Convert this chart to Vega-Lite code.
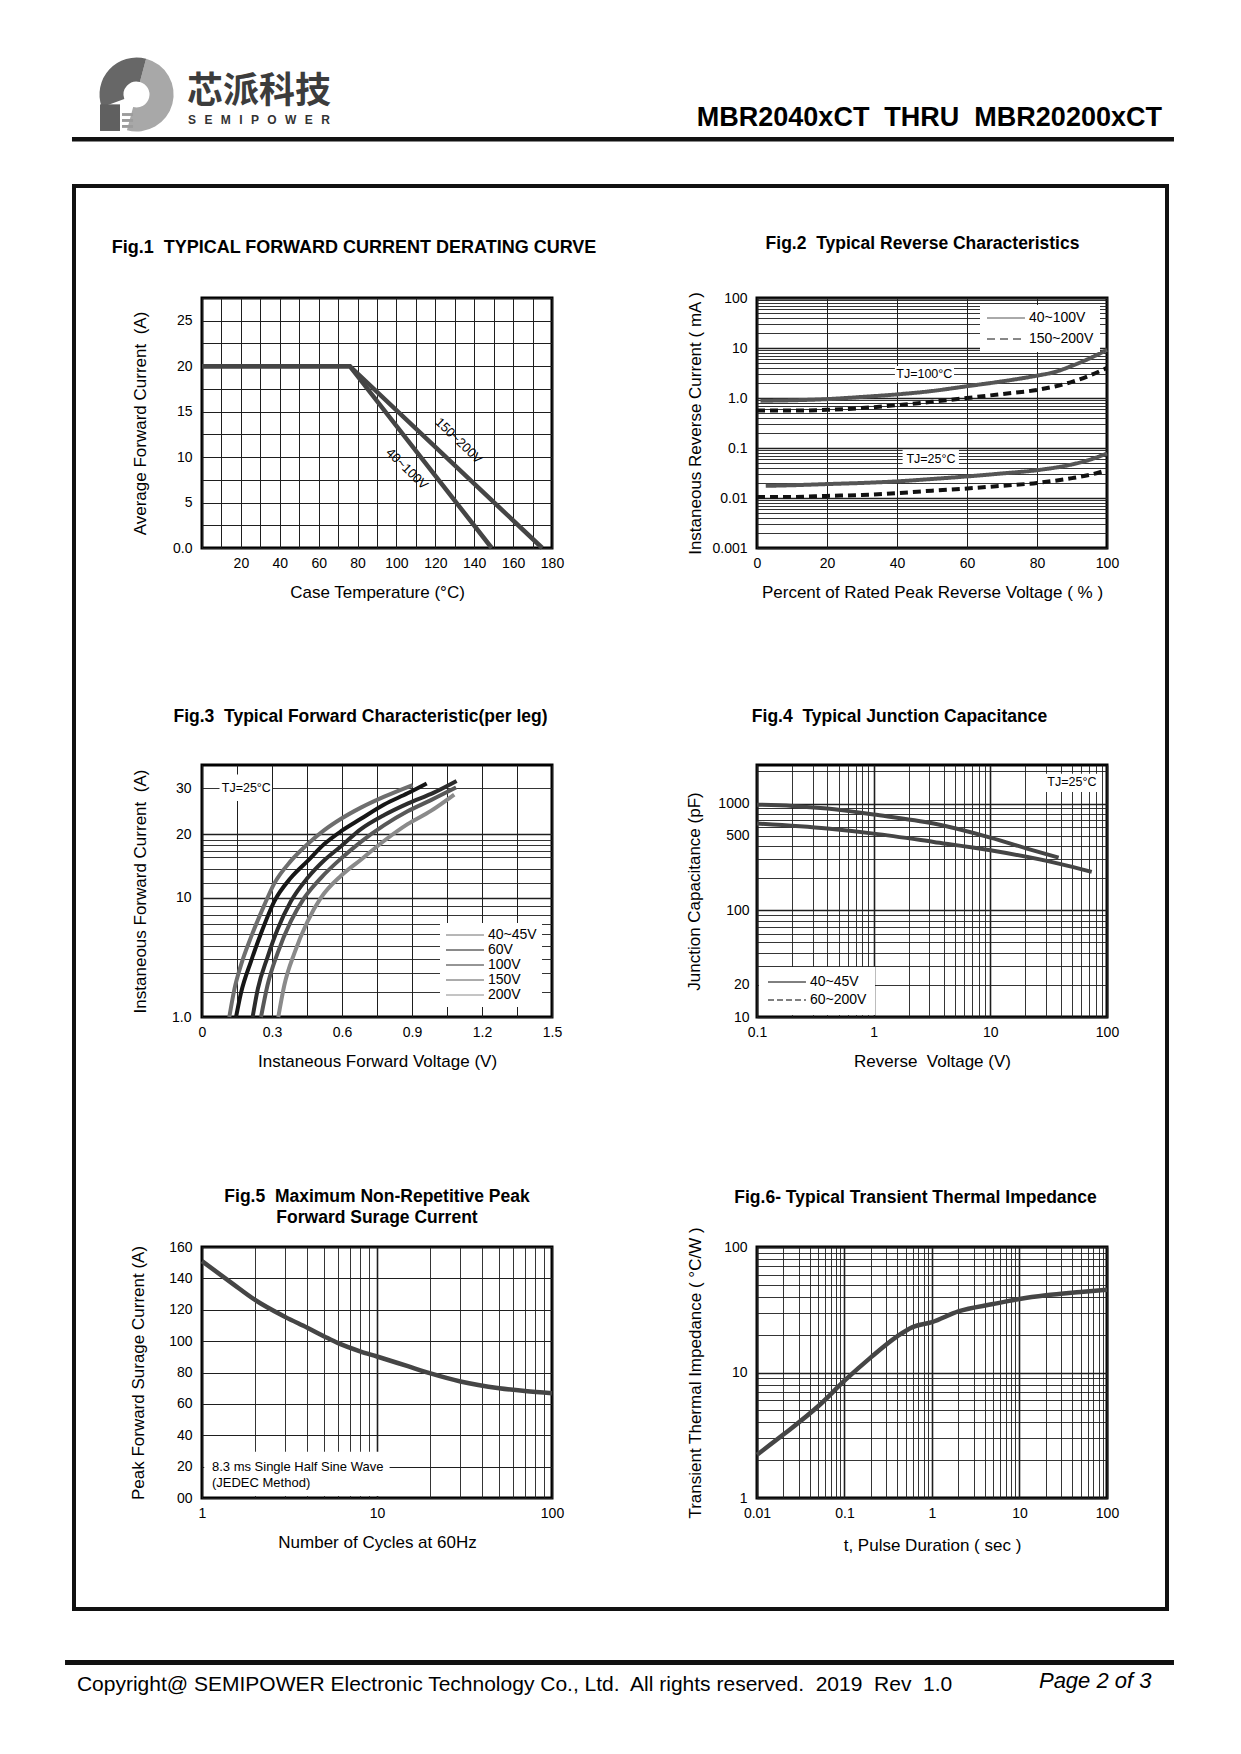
{
"$schema": "https://vega.github.io/schema/vega-lite/v6.json",
"background": "#ffffff",
"padding": 0,
"spacing": 0,
"bounds": "flush",
"columns": 9,
"align": "each",
"resolve": {"scale": {"color": "independent", "strokeDash": "independent", "theta": "independent"}},
"config": {
  "font": "Liberation Sans",
  "view": {"stroke": null},
  "axis": {"domain": false, "ticks": false, "labelFont": "Liberation Sans", "labelFontSize": 14, "labelColor": "#000", "titleFont": "Liberation Sans", "titleFontSize": 17, "titleFontWeight": "normal", "titleColor": "#000", "gridColor": "#1e1e1e", "gridOpacity": 1, "gridWidth": 1, "labelFlush": false, "labelOverlap": false, "grid": true},
  "axisX": {"labelPadding": 8, "titlePadding": 14},
  "legend": {"labelFont": "Liberation Sans", "labelFontSize": 14, "labelColor": "#000", "fillColor": "#ffffff", "symbolStrokeWidth": 1, "labelLimit": 300},
  "title": {"font": "Liberation Sans", "fontSize": 17.5, "fontWeight": "bold", "color": "#000", "anchor": "middle"}
},
"concat": [
  {
    "width": 72, "height": 181,
    "data": {"values": [{}]},
    "layer": [
      {"mark": {"type": "arc", "outerRadius": 37, "innerRadius": 13, "color": "#a8a8a8"},
       "encoding": {"x": {"datum": 0.11, "type": "quantitative", "scale": {"domain": [0, 1], "range": [0, 1241], "nice": false, "zero": false}, "axis": null},
                    "y": {"datum": 0.5055, "type": "quantitative", "scale": {"domain": [0, 1], "nice": false, "zero": false, "reverse": true}, "axis": null},
                    "theta": {"datum": 15, "type": "quantitative", "scale": {"domain": [0, 360], "range": [0, 6.2832]}},
                    "theta2": {"datum": 195}}},
      {"mark": {"type": "arc", "outerRadius": 37, "innerRadius": 13, "color": "#676767"},
       "encoding": {"x": {"datum": 0.11, "type": "quantitative", "scale": {"domain": [0, 1], "range": [0, 1241], "nice": false, "zero": false}, "axis": null},
                    "y": {"datum": 0.5055, "type": "quantitative", "scale": {"domain": [0, 1], "nice": false, "zero": false, "reverse": true}, "axis": null},
                    "theta": {"datum": 250, "type": "quantitative", "scale": {"domain": [0, 360], "range": [0, 6.2832]}},
                    "theta2": {"datum": 375}}},
      {"mark": {"type": "rect", "color": "#606060"},
       "encoding": {"x": {"datum": 0.0806, "type": "quantitative", "scale": {"domain": [0, 1], "range": [0, 1241], "nice": false, "zero": false}, "axis": null}, "x2": {"datum": 0.0967},
                    "y": {"datum": 0.56, "type": "quantitative", "scale": {"domain": [0, 1], "nice": false, "zero": false, "reverse": true}, "axis": null}, "y2": {"datum": 0.707}}},
      {"mark": {"type": "rect", "color": "#9c9c9c"},
       "encoding": {"x": {"datum": 0.0983, "type": "quantitative", "scale": {"domain": [0, 1], "range": [0, 1241], "nice": false, "zero": false}, "axis": null}, "x2": {"datum": 0.1072},
                    "y": {"datum": 0.608, "type": "quantitative", "scale": {"domain": [0, 1], "nice": false, "zero": false, "reverse": true}, "axis": null}, "y2": {"datum": 0.624}}},
      {"mark": {"type": "rect", "color": "#9c9c9c"},
       "encoding": {"x": {"datum": 0.0983, "type": "quantitative", "scale": {"domain": [0, 1], "range": [0, 1241], "nice": false, "zero": false}, "axis": null}, "x2": {"datum": 0.1072},
                    "y": {"datum": 0.641, "type": "quantitative", "scale": {"domain": [0, 1], "nice": false, "zero": false, "reverse": true}, "axis": null}, "y2": {"datum": 0.657}}},
      {"mark": {"type": "rect", "color": "#9c9c9c"},
       "encoding": {"x": {"datum": 0.0983, "type": "quantitative", "scale": {"domain": [0, 1], "range": [0, 1241], "nice": false, "zero": false}, "axis": null}, "x2": {"datum": 0.1072},
                    "y": {"datum": 0.674, "type": "quantitative", "scale": {"domain": [0, 1], "nice": false, "zero": false, "reverse": true}, "axis": null}, "y2": {"datum": 0.69}}},
      {"mark": {"type": "text", "text": "芯派科技", "font": "Noto Sans CJK SC", "fontSize": 36, "fontWeight": "bold", "align": "left", "baseline": "middle", "color": "#3c3c3c"},
       "encoding": {"x": {"datum": 0.1507, "type": "quantitative", "scale": {"domain": [0, 1], "range": [0, 1241], "nice": false, "zero": false}, "axis": null},
                    "y": {"datum": 0.4917, "type": "quantitative", "scale": {"domain": [0, 1], "nice": false, "zero": false, "reverse": true}, "axis": null}}},
      {"mark": {"type": "text", "text": "S\u2002\u2009E\u2002\u2009M\u2002\u2009I\u2002\u2009P\u2002\u2009O\u2002\u2009W\u2002\u2009E\u2002\u2009R", "fontSize": 12, "fontWeight": "bold", "align": "left", "baseline": "middle", "color": "#333333"},
       "encoding": {"x": {"datum": 0.1515, "type": "quantitative", "scale": {"domain": [0, 1], "range": [0, 1241], "nice": false, "zero": false}, "axis": null},
                    "y": {"datum": 0.645, "type": "quantitative", "scale": {"domain": [0, 1], "nice": false, "zero": false, "reverse": true}, "axis": null}}},
      {"mark": {"type": "text", "text": "MBR2040xCT\u00a0 THRU\u00a0 MBR20200xCT", "fontSize": 27, "fontWeight": "bold", "align": "right", "baseline": "alphabetic", "color": "#000"},
       "encoding": {"x": {"datum": 0.9363, "type": "quantitative", "scale": {"domain": [0, 1], "range": [0, 1241], "nice": false, "zero": false}, "axis": null},
                    "y": {"datum": 0.6775, "type": "quantitative", "scale": {"domain": [0, 1], "nice": false, "zero": false, "reverse": true}, "axis": null}}},
      {"mark": {"type": "rule", "strokeWidth": 4.5, "color": "#111"},
       "encoding": {"x": {"datum": 0.058, "type": "quantitative", "scale": {"domain": [0, 1], "range": [0, 1241], "nice": false, "zero": false}, "axis": null}, "x2": {"datum": 0.946},
                    "y": {"datum": 0.7527, "type": "quantitative", "scale": {"domain": [0, 1], "nice": false, "zero": false, "reverse": true}, "axis": null}}}
    ]
  },
  {"width": 4, "height": 1, "data": {"values": [{}]}, "mark": {"type": "point", "opacity": 0}},
  {"width": 126, "height": 1, "data": {"values": [{}]}, "mark": {"type": "point", "opacity": 0}},
  {"width": 350, "height": 1, "data": {"values": [{}]}, "mark": {"type": "point", "opacity": 0}},
  {"width": 205, "height": 1, "data": {"values": [{}]}, "mark": {"type": "point", "opacity": 0}},
  {"width": 350, "height": 1, "data": {"values": [{}]}, "mark": {"type": "point", "opacity": 0}},
  {"width": 58, "height": 1, "data": {"values": [{}]}, "mark": {"type": "point", "opacity": 0}},
  {"width": 4, "height": 1, "data": {"values": [{}]}, "mark": {"type": "point", "opacity": 0}},
  {"width": 72, "height": 1, "data": {"values": [{}]}, "mark": {"type": "point", "opacity": 0}},

  {"width": 72, "height": 4, "data": {"values": [{}]}, "mark": {"type": "point", "opacity": 0}},
  {"width": 4, "height": 4, "data": {"values": [{}]}, "view": {"fill": "#111111"}, "mark": {"type": "point", "opacity": 0}},
  {"width": 126, "height": 4, "data": {"values": [{}]}, "view": {"fill": "#111111"}, "mark": {"type": "point", "opacity": 0}},
  {"width": 350, "height": 4, "data": {"values": [{}]}, "view": {"fill": "#111111"}, "mark": {"type": "point", "opacity": 0}},
  {"width": 205, "height": 4, "data": {"values": [{}]}, "view": {"fill": "#111111"}, "mark": {"type": "point", "opacity": 0}},
  {"width": 350, "height": 4, "data": {"values": [{}]}, "view": {"fill": "#111111"}, "mark": {"type": "point", "opacity": 0}},
  {"width": 58, "height": 4, "data": {"values": [{}]}, "view": {"fill": "#111111"}, "mark": {"type": "point", "opacity": 0}},
  {"width": 4, "height": 4, "data": {"values": [{}]}, "view": {"fill": "#111111"}, "mark": {"type": "point", "opacity": 0}},
  {"width": 72, "height": 4, "data": {"values": [{}]}, "mark": {"type": "point", "opacity": 0}},

  {"width": 72, "height": 110, "data": {"values": [{}]}, "mark": {"type": "point", "opacity": 0}},
  {"width": 4, "height": 110, "data": {"values": [{}]}, "view": {"fill": "#111111"}, "mark": {"type": "point", "opacity": 0}},
  {"width": 126, "height": 1, "data": {"values": [{}]}, "mark": {"type": "point", "opacity": 0}},
  {"width": 350, "height": 1, "data": {"values": [{}]}, "mark": {"type": "point", "opacity": 0}},
  {"width": 205, "height": 1, "data": {"values": [{}]}, "mark": {"type": "point", "opacity": 0}},
  {"width": 350, "height": 1, "data": {"values": [{}]}, "mark": {"type": "point", "opacity": 0}},
  {"width": 58, "height": 1, "data": {"values": [{}]}, "mark": {"type": "point", "opacity": 0}},
  {"width": 4, "height": 110, "data": {"values": [{}]}, "view": {"fill": "#111111"}, "mark": {"type": "point", "opacity": 0}},
  {"width": 72, "height": 1, "data": {"values": [{}]}, "mark": {"type": "point", "opacity": 0}},

  {"width": 72, "height": 1, "data": {"values": [{}]}, "mark": {"type": "point", "opacity": 0}},
  {"width": 4, "height": 250, "data": {"values": [{}]}, "view": {"fill": "#111111"}, "mark": {"type": "point", "opacity": 0}},
  {"width": 126, "height": 1, "data": {"values": [{}]}, "mark": {"type": "point", "opacity": 0}},
  {
    "width": 350, "height": 250,
    "view": {"stroke": "#000", "strokeWidth": 3},
    "title": {"text": "Fig.1\u00a0 TYPICAL FORWARD CURRENT DERATING CURVE", "fontSize": 18, "dx": -23, "offset": 34},
    "encoding": {
      "x": {"field": "x", "type": "quantitative", "scale": {"domain": [0, 180], "nice": false, "zero": false},
            "axis": {"values": [0,10,20,30,40,50,60,70,80,90,100,110,120,130,140,150,160,170,180], "labelExpr": "datum.value > 0 && datum.value % 20 == 0 ? '' + datum.value : ''", "title": "Case Temperature (°C)"}},
      "y": {"field": "y", "type": "quantitative", "scale": {"domain": [0, 27.5], "nice": false, "zero": false},
            "axis": {"values": [0,2.5,5,7.5,10,12.5,15,17.5,20,22.5,25,27.5], "labelExpr": "datum.value == 0 ? '0.0' : (datum.value % 5 == 0 ? '' + datum.value : '')", "labelPadding": 10, "titlePadding": 23, "title": "Average Forward Current\u00a0 (A)"}}
    },
    "layer": [
      {"data": {"values": [
        {"s": "40~100V", "x": 0, "y": 20}, {"s": "40~100V", "x": 76, "y": 20}, {"s": "40~100V", "x": 149, "y": 0},
        {"s": "150~200V", "x": 0, "y": 20}, {"s": "150~200V", "x": 76, "y": 20}, {"s": "150~200V", "x": 175, "y": 0}]},
       "mark": {"type": "line", "color": "#454545", "strokeWidth": 4.5},
       "encoding": {"detail": {"field": "s"}}},
      {"data": {"values": [{"label": "150~200V", "x": 132, "y": 11.8}, {"label": "40~100V", "x": 105.4, "y": 8.7}]},
       "mark": {"type": "text", "angle": 44, "fontSize": 13, "color": "#000"},
       "encoding": {"text": {"field": "label"}}}
    ]
  },
  {"width": 205, "height": 1, "data": {"values": [{}]}, "mark": {"type": "point", "opacity": 0}},
  {
    "width": 350, "height": 250,
    "view": {"stroke": "#000", "strokeWidth": 3},
    "title": {"text": "Fig.2\u00a0 Typical Reverse Characteristics", "dx": -9.5, "offset": 38.5},
    "encoding": {
      "x": {"field": "x", "type": "quantitative", "scale": {"domain": [0, 100], "nice": false, "zero": false},
            "axis": {"values": [0,20,40,60,80,100], "title": "Percent of Rated Peak Reverse Voltage ( % )"}},
      "y": {"field": "y", "type": "quantitative", "scale": {"type": "log", "domain": [0.001, 100], "nice": false},
            "axis": {"values": [0.001,0.002,0.003,0.004,0.005,0.006,0.007,0.008,0.009,0.01,0.02,0.03,0.04,0.05,0.06,0.07,0.08,0.09,0.1,0.2,0.3,0.4,0.5,0.6,0.7,0.8,0.9,1,2,3,4,5,6,7,8,9,10,20,30,40,50,60,70,80,90,100],
                     "labelExpr": "datum.value == 100 ? '100' : datum.value == 10 ? '10' : datum.value == 1 ? '1.0' : datum.value == 0.1 ? '0.1' : datum.value == 0.01 ? '0.01' : datum.value == 0.001 ? '0.001' : ''",
                     "gridWidth": {"condition": {"test": "indexof([0.001,0.01,0.1,1,10,100], datum.value) >= 0", "value": 1.6}, "value": 0.9},
                     "labelPadding": 10, "titlePadding": 7.5, "title": "Instaneous Reverse Current ( mA )"}}
    },
    "layer": [
      {"data": {"values": [{"x": 39.4, "x2": 56.3, "y": 2.05, "y2": 4.35}, {"x": 41.6, "x2": 57.7, "y": 0.04, "y2": 0.092}]},
       "mark": {"type": "rect", "color": "#ffffff"},
       "encoding": {"x2": {"field": "x2"}, "y2": {"field": "y2"}}},
      {"data": {"values": [{"label": "TJ=100°C", "x": 47.8, "y": 3.0}, {"label": "TJ=25°C", "x": 49.7, "y": 0.0606}]},
       "mark": {"type": "text", "fontSize": 12.5, "color": "#000"},
       "encoding": {"text": {"field": "label"}}},
      {"data": {"values": [
        {"s": "40~100V", "t": "100", "x": 1, "y": 0.88}, {"s": "40~100V", "t": "100", "x": 10, "y": 0.9}, {"s": "40~100V", "t": "100", "x": 20, "y": 0.95}, {"s": "40~100V", "t": "100", "x": 30, "y": 1.05}, {"s": "40~100V", "t": "100", "x": 40, "y": 1.18}, {"s": "40~100V", "t": "100", "x": 50, "y": 1.38}, {"s": "40~100V", "t": "100", "x": 60, "y": 1.72}, {"s": "40~100V", "t": "100", "x": 70, "y": 2.15}, {"s": "40~100V", "t": "100", "x": 80, "y": 2.8}, {"s": "40~100V", "t": "100", "x": 85, "y": 3.3}, {"s": "40~100V", "t": "100", "x": 90, "y": 4.4}, {"s": "40~100V", "t": "100", "x": 95, "y": 6.2}, {"s": "40~100V", "t": "100", "x": 100, "y": 9.2},
        {"s": "150~200V", "t": "100", "x": 0, "y": 0.56}, {"s": "150~200V", "t": "100", "x": 10, "y": 0.56}, {"s": "150~200V", "t": "100", "x": 20, "y": 0.58}, {"s": "150~200V", "t": "100", "x": 30, "y": 0.63}, {"s": "150~200V", "t": "100", "x": 40, "y": 0.72}, {"s": "150~200V", "t": "100", "x": 50, "y": 0.84}, {"s": "150~200V", "t": "100", "x": 60, "y": 1.0}, {"s": "150~200V", "t": "100", "x": 70, "y": 1.2}, {"s": "150~200V", "t": "100", "x": 80, "y": 1.45}, {"s": "150~200V", "t": "100", "x": 85, "y": 1.7}, {"s": "150~200V", "t": "100", "x": 90, "y": 2.1}, {"s": "150~200V", "t": "100", "x": 95, "y": 2.8}, {"s": "150~200V", "t": "100", "x": 100, "y": 4.0},
        {"s": "40~100V", "t": "25", "x": 2.5, "y": 0.0175}, {"s": "40~100V", "t": "25", "x": 10, "y": 0.018}, {"s": "40~100V", "t": "25", "x": 20, "y": 0.019}, {"s": "40~100V", "t": "25", "x": 30, "y": 0.02}, {"s": "40~100V", "t": "25", "x": 40, "y": 0.0215}, {"s": "40~100V", "t": "25", "x": 50, "y": 0.024}, {"s": "40~100V", "t": "25", "x": 60, "y": 0.027}, {"s": "40~100V", "t": "25", "x": 70, "y": 0.031}, {"s": "40~100V", "t": "25", "x": 80, "y": 0.036}, {"s": "40~100V", "t": "25", "x": 90, "y": 0.047}, {"s": "40~100V", "t": "25", "x": 95, "y": 0.058}, {"s": "40~100V", "t": "25", "x": 100, "y": 0.078},
        {"s": "150~200V", "t": "25", "x": 0, "y": 0.0105}, {"s": "150~200V", "t": "25", "x": 10, "y": 0.0105}, {"s": "150~200V", "t": "25", "x": 20, "y": 0.011}, {"s": "150~200V", "t": "25", "x": 30, "y": 0.0115}, {"s": "150~200V", "t": "25", "x": 40, "y": 0.0125}, {"s": "150~200V", "t": "25", "x": 50, "y": 0.014}, {"s": "150~200V", "t": "25", "x": 60, "y": 0.0155}, {"s": "150~200V", "t": "25", "x": 70, "y": 0.0175}, {"s": "150~200V", "t": "25", "x": 80, "y": 0.02}, {"s": "150~200V", "t": "25", "x": 90, "y": 0.025}, {"s": "150~200V", "t": "25", "x": 95, "y": 0.029}, {"s": "150~200V", "t": "25", "x": 100, "y": 0.036}]},
       "mark": {"type": "line", "strokeWidth": 4, "interpolate": "monotone"},
       "encoding": {
         "color": {"field": "s", "type": "nominal", "scale": {"domain": ["40~100V", "150~200V"], "range": ["#555555", "#111111"]},
                   "legend": {"title": null, "orient": "top-right", "offset": 7, "symbolType": "M-1,0H5.33", "symbolSize": 144, "symbolStrokeWidth": 1, "labelOffset": 29, "rowPadding": 7, "padding": 6}},
         "strokeDash": {"field": "s", "type": "nominal", "scale": {"domain": ["40~100V", "150~200V"], "range": [[1, 0], [8, 5]]},
                   "legend": {"title": null, "orient": "top-right", "offset": 7, "symbolType": "M-1,0H5.33", "symbolSize": 144, "symbolStrokeWidth": 1, "labelOffset": 29, "rowPadding": 7, "padding": 6}},
         "detail": {"field": "t"}
       }}
    ]
  },
  {"width": 58, "height": 1, "data": {"values": [{}]}, "mark": {"type": "point", "opacity": 0}},
  {"width": 4, "height": 250, "data": {"values": [{}]}, "view": {"fill": "#111111"}, "mark": {"type": "point", "opacity": 0}},
  {"width": 72, "height": 1, "data": {"values": [{}]}, "mark": {"type": "point", "opacity": 0}},

  {"width": 72, "height": 217, "data": {"values": [{}]}, "mark": {"type": "point", "opacity": 0}},
  {"width": 4, "height": 217, "data": {"values": [{}]}, "view": {"fill": "#111111"}, "mark": {"type": "point", "opacity": 0}},
  {"width": 126, "height": 1, "data": {"values": [{}]}, "mark": {"type": "point", "opacity": 0}},
  {"width": 350, "height": 1, "data": {"values": [{}]}, "mark": {"type": "point", "opacity": 0}},
  {"width": 205, "height": 1, "data": {"values": [{}]}, "mark": {"type": "point", "opacity": 0}},
  {"width": 350, "height": 1, "data": {"values": [{}]}, "mark": {"type": "point", "opacity": 0}},
  {"width": 58, "height": 1, "data": {"values": [{}]}, "mark": {"type": "point", "opacity": 0}},
  {"width": 4, "height": 217, "data": {"values": [{}]}, "view": {"fill": "#111111"}, "mark": {"type": "point", "opacity": 0}},
  {"width": 72, "height": 1, "data": {"values": [{}]}, "mark": {"type": "point", "opacity": 0}},

  {"width": 72, "height": 1, "data": {"values": [{}]}, "mark": {"type": "point", "opacity": 0}},
  {"width": 4, "height": 252, "data": {"values": [{}]}, "view": {"fill": "#111111"}, "mark": {"type": "point", "opacity": 0}},
  {"width": 126, "height": 1, "data": {"values": [{}]}, "mark": {"type": "point", "opacity": 0}},
  {
    "width": 350, "height": 252,
    "view": {"stroke": "#000", "strokeWidth": 3},
    "title": {"text": "Fig.3\u00a0 Typical Forward Characteristic(per leg)", "dx": -16.5, "offset": 40},
    "encoding": {
      "x": {"field": "x", "type": "quantitative", "scale": {"domain": [0, 1.5], "nice": false, "zero": false},
            "axis": {"values": [0,0.15,0.3,0.45,0.6,0.75,0.9,1.05,1.2,1.35,1.5], "labelExpr": "round(datum.value*100) % 30 == 0 ? (datum.value == 0 ? '0' : format(datum.value, '.1f')) : ''", "title": "Instaneous Forward Voltage (V)"}},
      "y": {"field": "y", "type": "quantitative", "scale": {"type": "pow", "exponent": 0.4, "domain": [1, 36], "nice": false, "zero": false},
            "axis": {"values": [1,2,3,4,5,6,7,8,9,10,12,14,16,17,18,19,20,30], "labelExpr": "datum.value == 1 ? '1.0' : (datum.value == 10 || datum.value == 20 || datum.value == 30) ? '' + datum.value : ''",
                     "gridWidth": {"condition": {"test": "datum.value == 10 || datum.value == 20", "value": 1.6}, "value": 0.9},
                     "labelPadding": 11, "titlePadding": 22, "title": "Instaneous Forward Current\u00a0 (A)"}}
    },
    "layer": [
      {"data": {"values": [{"x": 0.075, "x2": 0.3, "y": 27.0, "y2": 33.5}]},
       "mark": {"type": "rect", "color": "#ffffff"},
       "encoding": {"x2": {"field": "x2"}, "y2": {"field": "y2"}}},
      {"data": {"values": [{"label": "TJ=25°C", "x": 0.19, "y": 30}]},
       "mark": {"type": "text", "fontSize": 12.5, "color": "#000"},
       "encoding": {"text": {"field": "label"}}},
      {"data": {"values": [
        {"s": "40~45V", "x": 0.117, "y": 1.0}, {"s": "40~45V", "x": 0.139, "y": 2.13}, {"s": "40~45V", "x": 0.167, "y": 3.54}, {"s": "40~45V", "x": 0.21, "y": 5.74}, {"s": "40~45V", "x": 0.267, "y": 9.09}, {"s": "40~45V", "x": 0.31, "y": 11.9}, {"s": "40~45V", "x": 0.381, "y": 15.3}, {"s": "40~45V", "x": 0.453, "y": 18.2}, {"s": "40~45V", "x": 0.524, "y": 20.8}, {"s": "40~45V", "x": 0.596, "y": 23.1}, {"s": "40~45V", "x": 0.681, "y": 25.5}, {"s": "40~45V", "x": 0.781, "y": 28.0}, {"s": "40~45V", "x": 0.903, "y": 30.8},
        {"s": "60V", "x": 0.146, "y": 1.0}, {"s": "60V", "x": 0.167, "y": 1.94}, {"s": "60V", "x": 0.21, "y": 3.8}, {"s": "60V", "x": 0.253, "y": 6.1}, {"s": "60V", "x": 0.31, "y": 9.55}, {"s": "60V", "x": 0.381, "y": 12.7}, {"s": "60V", "x": 0.453, "y": 15.3}, {"s": "60V", "x": 0.524, "y": 18.2}, {"s": "60V", "x": 0.596, "y": 20.6}, {"s": "60V", "x": 0.681, "y": 23.1}, {"s": "60V", "x": 0.781, "y": 26.2}, {"s": "60V", "x": 0.881, "y": 28.8}, {"s": "60V", "x": 0.963, "y": 31.2},
        {"s": "100V", "x": 0.217, "y": 1.0}, {"s": "100V", "x": 0.239, "y": 2.13}, {"s": "100V", "x": 0.281, "y": 4.11}, {"s": "100V", "x": 0.324, "y": 6.48}, {"s": "100V", "x": 0.381, "y": 9.55}, {"s": "100V", "x": 0.453, "y": 12.7}, {"s": "100V", "x": 0.524, "y": 15.4}, {"s": "100V", "x": 0.596, "y": 17.8}, {"s": "100V", "x": 0.681, "y": 21.0}, {"s": "100V", "x": 0.781, "y": 23.9}, {"s": "100V", "x": 0.881, "y": 26.4}, {"s": "100V", "x": 0.996, "y": 29.0}, {"s": "100V", "x": 1.091, "y": 31.8},
        {"s": "150V", "x": 0.253, "y": 1.0}, {"s": "150V", "x": 0.281, "y": 2.34}, {"s": "150V", "x": 0.324, "y": 4.41}, {"s": "150V", "x": 0.381, "y": 7.3}, {"s": "150V", "x": 0.439, "y": 10.0}, {"s": "150V", "x": 0.51, "y": 12.7}, {"s": "150V", "x": 0.596, "y": 15.7}, {"s": "150V", "x": 0.681, "y": 18.6}, {"s": "150V", "x": 0.781, "y": 21.8}, {"s": "150V", "x": 0.881, "y": 24.7}, {"s": "150V", "x": 0.981, "y": 27.2}, {"s": "150V", "x": 1.089, "y": 30.2},
        {"s": "200V", "x": 0.327, "y": 1.0}, {"s": "200V", "x": 0.353, "y": 2.34}, {"s": "200V", "x": 0.396, "y": 4.41}, {"s": "200V", "x": 0.453, "y": 7.3}, {"s": "200V", "x": 0.51, "y": 10.0}, {"s": "200V", "x": 0.596, "y": 13.0}, {"s": "200V", "x": 0.681, "y": 15.5}, {"s": "200V", "x": 0.781, "y": 18.8}, {"s": "200V", "x": 0.881, "y": 22.0}, {"s": "200V", "x": 0.981, "y": 24.8}, {"s": "200V", "x": 1.081, "y": 28.5}]},
       "mark": {"type": "line", "strokeWidth": 4, "interpolate": "monotone"},
       "encoding": {
         "color": {"field": "s", "type": "nominal", "scale": {"domain": ["40~45V", "60V", "100V", "150V", "200V"], "range": ["#6e6e6e", "#161616", "#2c2c2c", "#585858", "#8a8a8a"]},
                   "legend": {"title": null, "orient": "bottom-right", "offset": 10, "symbolType": "M-1,0H5.33", "symbolSize": 144, "symbolStrokeWidth": 1, "labelOffset": 29, "rowPadding": 1, "padding": 5}}
       }}
    ]
  },
  {"width": 205, "height": 1, "data": {"values": [{}]}, "mark": {"type": "point", "opacity": 0}},
  {
    "width": 350, "height": 252,
    "view": {"stroke": "#000", "strokeWidth": 3},
    "title": {"text": "Fig.4\u00a0 Typical Junction Capacitance", "dx": -32.5, "offset": 39},
    "encoding": {
      "x": {"field": "x", "type": "quantitative", "scale": {"type": "log", "domain": [0.1, 100], "nice": false},
            "axis": {"values": [0.1,0.2,0.3,0.4,0.5,0.6,0.7,0.8,0.9,1,2,3,4,5,6,7,8,9,10,20,30,40,50,60,70,80,90,100],
                     "labelExpr": "datum.value == 0.1 ? '0.1' : datum.value == 1 ? '1' : datum.value == 10 ? '10' : datum.value == 100 ? '100' : ''",
                     "gridWidth": {"condition": {"test": "indexof([0.1,1,10,100], datum.value) >= 0", "value": 1.6}, "value": 0.9},
                     "title": "Reverse\u00a0 Voltage (V)"}},
      "y": {"field": "y", "type": "quantitative", "scale": {"type": "log", "domain": [10, 2300], "nice": false},
            "axis": {"values": [10,20,30,40,50,60,70,80,90,100,200,300,400,500,600,700,800,900,1000,2000],
                     "labelExpr": "indexof([10,20,100,500,1000], datum.value) >= 0 ? '' + datum.value : ''",
                     "gridWidth": {"condition": {"test": "indexof([10,100,1000], datum.value) >= 0", "value": 1.6}, "value": 0.9},
                     "labelPadding": 8, "titlePadding": 14, "title": "Junction Capacitance (pF)"}}
    },
    "layer": [
      {"data": {"values": [{"x": 28.7, "x2": 90.6, "y": 1286, "y2": 1905}]},
       "mark": {"type": "rect", "color": "#ffffff"},
       "encoding": {"x2": {"field": "x2"}, "y2": {"field": "y2"}}},
      {"data": {"values": [{"label": "TJ=25°C", "x": 50, "y": 1597}]},
       "mark": {"type": "text", "fontSize": 12.5, "color": "#000"},
       "encoding": {"text": {"field": "label"}}},
      {"data": {"name": "cap", "values": [
        {"s": "40~45V", "x": 0.1, "y": 977}, {"s": "40~45V", "x": 0.2, "y": 951}, {"s": "40~45V", "x": 0.4, "y": 898}, {"s": "40~45V", "x": 1, "y": 789}, {"s": "40~45V", "x": 3.27, "y": 650}, {"s": "40~45V", "x": 10, "y": 480}, {"s": "40~45V", "x": 20.6, "y": 379}, {"s": "40~45V", "x": 38.5, "y": 312},
        {"s": "60~200V", "x": 0.1, "y": 650}, {"s": "60~200V", "x": 0.4, "y": 583}, {"s": "60~200V", "x": 1, "y": 523}, {"s": "60~200V", "x": 3.27, "y": 437}, {"s": "60~200V", "x": 10, "y": 365}, {"s": "60~200V", "x": 38.5, "y": 274}, {"s": "60~200V", "x": 74, "y": 229}]},
       "mark": {"type": "line", "strokeWidth": 4, "color": "#454545", "interpolate": "monotone"},
       "encoding": {"detail": {"field": "s"}}},
      {"data": {"name": "cap"},
       "mark": {"type": "line", "opacity": 0, "color": "#000"},
       "encoding": {
         "strokeDash": {"field": "s", "type": "nominal", "scale": {"domain": ["40~45V", "60~200V"], "range": [[1, 0], [6, 3]]},
                        "legend": {"title": null, "orient": "bottom-left", "offset": 2, "symbolType": "M-1,0H5.33", "symbolSize": 144, "symbolStrokeWidth": 1, "symbolStrokeColor": "#000", "symbolOpacity": 1, "labelOffset": 29, "rowPadding": 4, "padding": 8}}
       }}
    ]
  },
  {"width": 58, "height": 1, "data": {"values": [{}]}, "mark": {"type": "point", "opacity": 0}},
  {"width": 4, "height": 252, "data": {"values": [{}]}, "view": {"fill": "#111111"}, "mark": {"type": "point", "opacity": 0}},
  {"width": 72, "height": 1, "data": {"values": [{}]}, "mark": {"type": "point", "opacity": 0}},

  {"width": 72, "height": 230, "data": {"values": [{}]}, "mark": {"type": "point", "opacity": 0}},
  {"width": 4, "height": 230, "data": {"values": [{}]}, "view": {"fill": "#111111"}, "mark": {"type": "point", "opacity": 0}},
  {"width": 126, "height": 1, "data": {"values": [{}]}, "mark": {"type": "point", "opacity": 0}},
  {"width": 350, "height": 1, "data": {"values": [{}]}, "mark": {"type": "point", "opacity": 0}},
  {"width": 205, "height": 1, "data": {"values": [{}]}, "mark": {"type": "point", "opacity": 0}},
  {"width": 350, "height": 1, "data": {"values": [{}]}, "mark": {"type": "point", "opacity": 0}},
  {"width": 58, "height": 1, "data": {"values": [{}]}, "mark": {"type": "point", "opacity": 0}},
  {"width": 4, "height": 230, "data": {"values": [{}]}, "view": {"fill": "#111111"}, "mark": {"type": "point", "opacity": 0}},
  {"width": 72, "height": 1, "data": {"values": [{}]}, "mark": {"type": "point", "opacity": 0}},

  {"width": 72, "height": 1, "data": {"values": [{}]}, "mark": {"type": "point", "opacity": 0}},
  {"width": 4, "height": 251, "data": {"values": [{}]}, "view": {"fill": "#111111"}, "mark": {"type": "point", "opacity": 0}},
  {"width": 126, "height": 1, "data": {"values": [{}]}, "mark": {"type": "point", "opacity": 0}},
  {
    "width": 350, "height": 251,
    "view": {"stroke": "#000", "strokeWidth": 3},
    "title": {"text": ["Fig.5\u00a0 Maximum Non-Repetitive Peak", "Forward Surage Current"], "offset": 14, "lineHeight": 21},
    "encoding": {
      "x": {"field": "x", "type": "quantitative", "scale": {"type": "log", "domain": [1, 100], "nice": false},
            "axis": {"values": [1,2,3,4,5,6,7,8,9,10,20,30,40,50,60,70,80,90,100],
                     "labelExpr": "indexof([1,10,100], datum.value) >= 0 ? '' + datum.value : ''",
                     "gridWidth": {"condition": {"test": "datum.value == 10", "value": 1.6}, "value": 0.9},
                     "title": "Number of Cycles at 60Hz"}},
      "y": {"field": "y", "type": "quantitative", "scale": {"domain": [0, 160], "nice": false, "zero": false},
            "axis": {"values": [0,20,40,60,80,100,120,140,160], "labelExpr": "datum.value == 0 ? '00' : '' + datum.value",
                     "labelPadding": 10, "titlePadding": 21, "title": "Peak Forward Surage Current (A)"}}
    },
    "layer": [
      {"data": {"values": [{"x": 1.03, "x2": 11.8, "y": 1.3, "y2": 29.5}]},
       "mark": {"type": "rect", "color": "#ffffff"},
       "encoding": {"x2": {"field": "x2"}, "y2": {"field": "y2"}}},
      {"data": {"values": [{"label": "8.3 ms Single Half Sine Wave", "x": 1.14, "y": 19.5}, {"label": "(JEDEC Method)", "x": 1.14, "y": 9.5}]},
       "mark": {"type": "text", "fontSize": 13, "align": "left", "baseline": "middle", "color": "#000"},
       "encoding": {"text": {"field": "label"}}},
      {"data": {"values": [
        {"x": 1, "y": 151}, {"x": 1.5, "y": 136.5}, {"x": 2, "y": 126.4}, {"x": 3, "y": 115.3}, {"x": 4, "y": 108.5}, {"x": 5, "y": 103}, {"x": 6, "y": 98.7}, {"x": 8, "y": 93.5}, {"x": 10, "y": 90.2}, {"x": 15, "y": 84}, {"x": 20, "y": 79.6}, {"x": 30, "y": 74.3}, {"x": 50, "y": 70}, {"x": 70, "y": 68.2}, {"x": 100, "y": 66.8}]},
       "mark": {"type": "line", "strokeWidth": 4.5, "color": "#454545", "interpolate": "monotone"}}
    ]
  },
  {"width": 205, "height": 1, "data": {"values": [{}]}, "mark": {"type": "point", "opacity": 0}},
  {
    "width": 350, "height": 251,
    "view": {"stroke": "#000", "strokeWidth": 3},
    "title": {"text": "Fig.6- Typical Transient Thermal Impedance", "dx": -16.5, "offset": 20.5},
    "encoding": {
      "x": {"field": "x", "type": "quantitative", "scale": {"type": "log", "domain": [0.01, 100], "nice": false},
            "axis": {"values": [0.01,0.02,0.03,0.04,0.05,0.06,0.07,0.08,0.09,0.1,0.2,0.3,0.4,0.5,0.6,0.7,0.8,0.9,1,2,3,4,5,6,7,8,9,10,20,30,40,50,60,70,80,90,100],
                     "labelExpr": "datum.value == 0.01 ? '0.01' : datum.value == 0.1 ? '0.1' : datum.value == 1 ? '1' : datum.value == 10 ? '10' : datum.value == 100 ? '100' : ''",
                     "gridWidth": {"condition": {"test": "indexof([0.01,0.1,1,10,100], datum.value) >= 0", "value": 1.6}, "value": 0.9},
                     "titlePadding": 17, "title": "t, Pulse Duration ( sec )"}},
      "y": {"field": "y", "type": "quantitative", "scale": {"type": "log", "domain": [1, 100], "nice": false},
            "axis": {"values": [1,2,3,4,5,6,7,8,9,10,20,30,40,50,60,70,80,90,100],
                     "labelExpr": "indexof([1,10,100], datum.value) >= 0 ? '' + datum.value : ''",
                     "gridWidth": {"condition": {"test": "indexof([1,10,100], datum.value) >= 0", "value": 1.6}, "value": 0.9},
                     "labelPadding": 10, "titlePadding": 19, "title": "Transient Thermal Impedance ( °C/W )"}}
    },
    "layer": [
      {"data": {"values": [
        {"x": 0.01, "y": 2.21}, {"x": 0.02, "y": 3.2}, {"x": 0.05, "y": 5.38}, {"x": 0.1, "y": 8.6}, {"x": 0.2, "y": 13.2}, {"x": 0.4, "y": 19.4}, {"x": 0.6, "y": 23}, {"x": 1, "y": 25.2}, {"x": 2, "y": 30.7}, {"x": 5, "y": 35.1}, {"x": 10, "y": 38.5}, {"x": 20, "y": 41.2}, {"x": 50, "y": 43.8}, {"x": 100, "y": 45.7}]},
       "mark": {"type": "line", "strokeWidth": 4.5, "color": "#454545", "interpolate": "monotone"}}
    ]
  },
  {"width": 58, "height": 1, "data": {"values": [{}]}, "mark": {"type": "point", "opacity": 0}},
  {"width": 4, "height": 251, "data": {"values": [{}]}, "view": {"fill": "#111111"}, "mark": {"type": "point", "opacity": 0}},
  {"width": 72, "height": 1, "data": {"values": [{}]}, "mark": {"type": "point", "opacity": 0}},

  {"width": 72, "height": 109, "data": {"values": [{}]}, "mark": {"type": "point", "opacity": 0}},
  {"width": 4, "height": 109, "data": {"values": [{}]}, "view": {"fill": "#111111"}, "mark": {"type": "point", "opacity": 0}},
  {"width": 126, "height": 1, "data": {"values": [{}]}, "mark": {"type": "point", "opacity": 0}},
  {"width": 350, "height": 1, "data": {"values": [{}]}, "mark": {"type": "point", "opacity": 0}},
  {"width": 205, "height": 1, "data": {"values": [{}]}, "mark": {"type": "point", "opacity": 0}},
  {"width": 350, "height": 1, "data": {"values": [{}]}, "mark": {"type": "point", "opacity": 0}},
  {"width": 58, "height": 1, "data": {"values": [{}]}, "mark": {"type": "point", "opacity": 0}},
  {"width": 4, "height": 109, "data": {"values": [{}]}, "view": {"fill": "#111111"}, "mark": {"type": "point", "opacity": 0}},
  {"width": 72, "height": 1, "data": {"values": [{}]}, "mark": {"type": "point", "opacity": 0}},

  {"width": 72, "height": 4, "data": {"values": [{}]}, "mark": {"type": "point", "opacity": 0}},
  {"width": 4, "height": 4, "data": {"values": [{}]}, "view": {"fill": "#111111"}, "mark": {"type": "point", "opacity": 0}},
  {"width": 126, "height": 4, "data": {"values": [{}]}, "view": {"fill": "#111111"}, "mark": {"type": "point", "opacity": 0}},
  {"width": 350, "height": 4, "data": {"values": [{}]}, "view": {"fill": "#111111"}, "mark": {"type": "point", "opacity": 0}},
  {"width": 205, "height": 4, "data": {"values": [{}]}, "view": {"fill": "#111111"}, "mark": {"type": "point", "opacity": 0}},
  {"width": 350, "height": 4, "data": {"values": [{}]}, "view": {"fill": "#111111"}, "mark": {"type": "point", "opacity": 0}},
  {"width": 58, "height": 4, "data": {"values": [{}]}, "view": {"fill": "#111111"}, "mark": {"type": "point", "opacity": 0}},
  {"width": 4, "height": 4, "data": {"values": [{}]}, "view": {"fill": "#111111"}, "mark": {"type": "point", "opacity": 0}},
  {"width": 72, "height": 4, "data": {"values": [{}]}, "mark": {"type": "point", "opacity": 0}},

  {
    "width": 72, "height": 146,
    "data": {"values": [{}]},
    "layer": [
      {"mark": {"type": "rule", "strokeWidth": 5, "color": "#111"},
       "encoding": {"x": {"datum": 0.0524, "type": "quantitative", "scale": {"domain": [0, 1], "range": [0, 1241], "nice": false, "zero": false}, "axis": null}, "x2": {"datum": 0.946},
                    "y": {"datum": 0.353, "type": "quantitative", "scale": {"domain": [0, 1], "nice": false, "zero": false, "reverse": true}, "axis": null}}},
      {"mark": {"type": "text", "text": "Copyright@ SEMIPOWER Electronic Technology Co., Ltd.\u00a0 All rights reserved.\u00a0 2019\u00a0 Rev\u00a0 1.0", "fontSize": 21, "align": "left", "baseline": "alphabetic", "color": "#000"},
       "encoding": {"x": {"datum": 0.062, "type": "quantitative", "scale": {"domain": [0, 1], "range": [0, 1241], "nice": false, "zero": false}, "axis": null},
                    "y": {"datum": 0.548, "type": "quantitative", "scale": {"domain": [0, 1], "nice": false, "zero": false, "reverse": true}, "axis": null}}},
      {"mark": {"type": "text", "text": "Page 2 of 3", "fontSize": 22, "fontStyle": "italic", "align": "left", "baseline": "alphabetic", "color": "#000"},
       "encoding": {"x": {"datum": 0.8372, "type": "quantitative", "scale": {"domain": [0, 1], "range": [0, 1241], "nice": false, "zero": false}, "axis": null},
                    "y": {"datum": 0.527, "type": "quantitative", "scale": {"domain": [0, 1], "nice": false, "zero": false, "reverse": true}, "axis": null}}}
    ]
  },
  {"width": 4, "height": 1, "data": {"values": [{}]}, "mark": {"type": "point", "opacity": 0}},
  {"width": 126, "height": 1, "data": {"values": [{}]}, "mark": {"type": "point", "opacity": 0}},
  {"width": 350, "height": 1, "data": {"values": [{}]}, "mark": {"type": "point", "opacity": 0}},
  {"width": 205, "height": 1, "data": {"values": [{}]}, "mark": {"type": "point", "opacity": 0}},
  {"width": 350, "height": 1, "data": {"values": [{}]}, "mark": {"type": "point", "opacity": 0}},
  {"width": 58, "height": 1, "data": {"values": [{}]}, "mark": {"type": "point", "opacity": 0}},
  {"width": 4, "height": 1, "data": {"values": [{}]}, "mark": {"type": "point", "opacity": 0}},
  {"width": 72, "height": 1, "data": {"values": [{}]}, "mark": {"type": "point", "opacity": 0}}
]
}
